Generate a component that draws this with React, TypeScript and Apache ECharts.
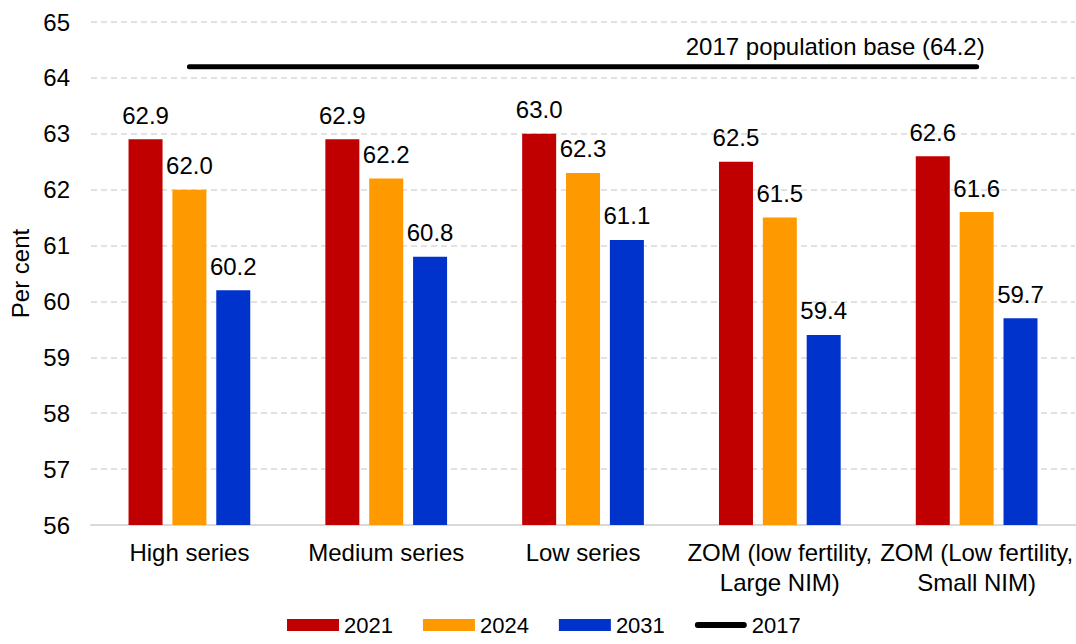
import React, { useEffect, useRef } from "react";
import * as echarts from "echarts";

const categories = [
  "High series",
  "Medium series",
  "Low series",
  "ZOM (low fertility,\nLarge NIM)",
  "ZOM (Low fertility,\nSmall NIM)",
];
const values2021 = [62.9, 62.9, 63.0, 62.5, 62.6];
const values2024 = [62.0, 62.2, 62.3, 61.5, 61.6];
const values2031 = [60.2, 60.8, 61.1, 59.4, 59.7];
const base2017 = [64.2, 64.2, 64.2, 64.2, 64.2];
const yTicks = { min: 56, max: 65, interval: 1 };

const FONT = "'Liberation Sans', Arial, sans-serif";
// Rounded thick-line legend glyph (invisible moveTo points fix its 52x12 box)
const LINE_ICON = "path://M0,0M52,12M3,3L49,3A3,3,0,0,1,49,9L3,9A3,3,0,0,1,3,3Z";

export default function App() {
  const ref = useRef<HTMLDivElement>(null);

  useEffect(() => {
    document.body.style.margin = "0";
    const chart = echarts.init(ref.current!, null, { renderer: "svg" });

    const barLabel = {
      show: true,
      position: "top",
      distance: 12,
      color: "#000",
      fontSize: 24,
      fontFamily: FONT,
      formatter: (p: any) => Number(p.value).toFixed(1),
    };

    const barSeries = (name: string, data: number[], color: string) => ({
      name,
      type: "bar",
      data,
      barWidth: 34,
      barGap: "29%",
      itemStyle: { color },
      label: barLabel,
    });

    chart.setOption({
      animation: false,
      textStyle: { fontFamily: FONT },
      grid: { left: 91, right: 0, top: 22, bottom: 119, containLabel: false },
      legend: {
        bottom: 3,
        left: 282,
        itemWidth: 52,
        itemHeight: 12,
        itemGap: 30,
        textStyle: { fontSize: 22, color: "#000", fontFamily: FONT },
        data: [
          { name: "2021", icon: "rect" },
          { name: "2024", icon: "rect" },
          { name: "2031", icon: "rect" },
          { name: "2017", icon: LINE_ICON, itemStyle: { color: "#000" } },
        ],
      },
      xAxis: {
        type: "category",
        data: categories,
        axisLine: { lineStyle: { color: "#d9d9d9", width: 2 } },
        axisTick: { show: false },
        axisLabel: {
          color: "#000",
          fontSize: 24,
          lineHeight: 30,
          margin: 12,
          fontFamily: FONT,
          interval: 0,
        },
      },
      yAxis: {
        type: "value",
        min: yTicks.min,
        max: yTicks.max,
        interval: yTicks.interval,
        name: "Per cent",
        nameLocation: "middle",
        nameGap: 58,
        nameTextStyle: { fontSize: 24, color: "#000", fontFamily: FONT },
        axisLine: { show: false },
        axisTick: { show: false },
        axisLabel: { color: "#000", fontSize: 24, margin: 21, fontFamily: FONT },
        splitLine: { lineStyle: { color: "#d9d9d9", width: 1.5, type: [6, 4] } },
      },
      series: [
        barSeries("2021", values2021, "#C00000"),
        barSeries("2024", values2024, "#FF9900"),
        barSeries("2031", values2031, "#0033CC"),
        {
          name: "2017",
          type: "line",
          data: base2017.map((v, i) =>
            i === base2017.length - 1
              ? {
                  value: v,
                  label: {
                    show: true,
                    position: "top",
                    align: "right",
                    offset: [8, 0],
                    distance: 8,
                    formatter: (p: any) => `2017 population base (${Number(p.value).toFixed(1)})`,
                    fontSize: 24,
                    color: "#000",
                    fontFamily: FONT,
                  },
                }
              : v
          ),
          symbol: "circle",
          symbolSize: 1,
          showSymbol: true,
          lineStyle: { color: "#000", width: 5, cap: "round" },
          itemStyle: { color: "#000" },
          z: 5,
        },
      ],
    });

    return () => chart.dispose();
  }, []);

  return <div ref={ref} style={{ width: 1076, height: 644 }} />;
}
